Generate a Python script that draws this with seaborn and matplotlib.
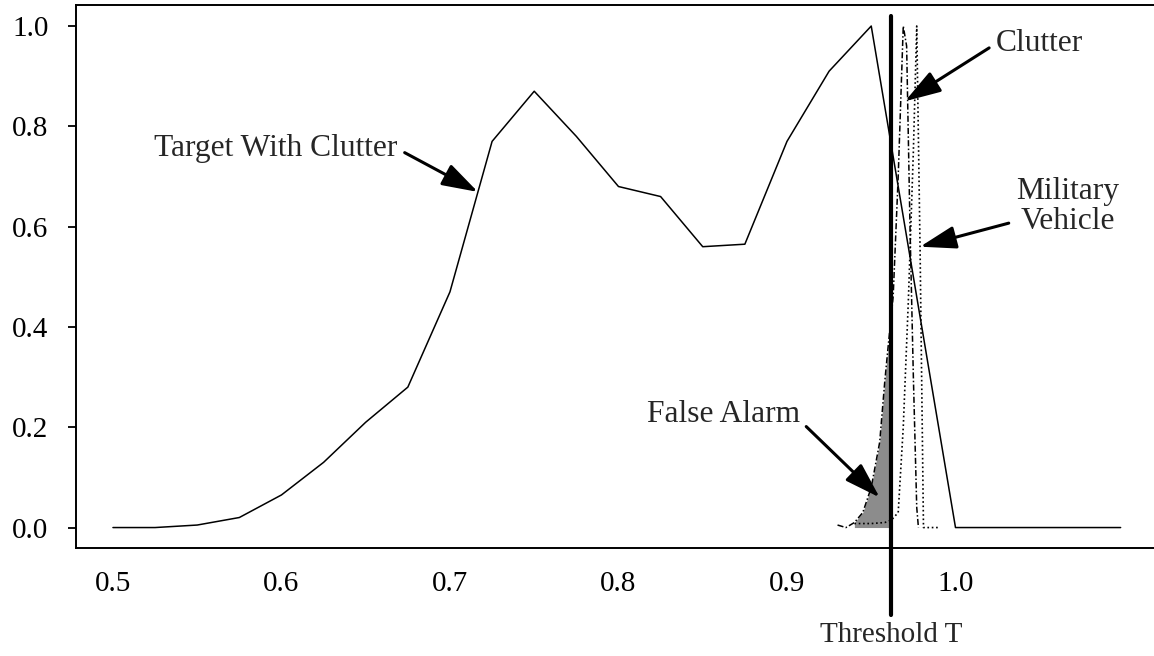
import numpy as np
import pandas as pd
import matplotlib
matplotlib.use("Agg")
import matplotlib.pyplot as plt
import seaborn as sns

# ---- data ----
tw_x = [0.50, 0.525, 0.55, 0.575, 0.60, 0.625, 0.65, 0.675, 0.70, 0.725, 0.75,
        0.775, 0.80, 0.825, 0.85, 0.875, 0.90, 0.925, 0.95, 1.00, 1.098]
tw_y = [0.0, 0.0, 0.005, 0.02, 0.065, 0.13, 0.21, 0.28, 0.47, 0.77, 0.87,
        0.78, 0.68, 0.66, 0.56, 0.565, 0.77, 0.91, 1.0, 0.0, 0.0]

cl_x = [0.930, 0.935, 0.940, 0.945, 0.950, 0.955, 0.958, 0.960, 0.963, 0.966,
        0.969, 0.971, 0.973, 0.975, 0.977, 0.978]
cl_y = [0.005, 0.0, 0.01, 0.03, 0.08, 0.17, 0.29, 0.36, 0.46, 0.70,
        1.0, 0.96, 0.60, 0.30, 0.04, 0.0]

mv_x = [0.940, 0.950, 0.958, 0.962, 0.966, 0.969, 0.972, 0.975, 0.977, 0.979, 0.981, 0.990]
mv_y = [0.008, 0.008, 0.01, 0.015, 0.03, 0.20, 0.45, 0.75, 1.0, 0.55, 0.0, 0.0]

threshold = 0.962
false_alarm_start = 0.940

x_ticks = [0.5, 0.6, 0.7, 0.8, 0.9, 1.0]
x_labels = ["0.5", "0.6", "0.7", "0.8", "0.9", "1.0"]
y_ticks = [0.0, 0.2, 0.4, 0.6, 0.8, 1.0]
y_labels = ["0.0", "0.2", "0.4", "0.6", "0.8", "1.0"]

# ---- style ----
sns.set_style("ticks")
plt.rcParams["font.family"] = ["Liberation Serif", "DejaVu Serif"]

fig = plt.figure(figsize=(11.54, 6.56), dpi=100)
ax = fig.add_axes([0.0656, 0.165, 0.9344, 0.8278])

df_tw = pd.DataFrame({"x": tw_x, "y": tw_y})
df_cl = pd.DataFrame({"x": cl_x, "y": cl_y})
df_mv = pd.DataFrame({"x": mv_x, "y": mv_y})

# False alarm shading: clutter below threshold
fx = np.array([v for v in cl_x if false_alarm_start <= v <= threshold] + [threshold])
fy = np.interp(fx, cl_x, cl_y)
ax.fill_between(fx, 0, fy, color="#8c8c8c", lw=0, zorder=1)

sns.lineplot(data=df_tw, x="x", y="y", ax=ax, color="black", lw=1.1,
             estimator=None, sort=False, zorder=3)
sns.lineplot(data=df_cl, x="x", y="y", ax=ax, color="black", lw=1.1,
             linestyle=(0, (4, 1.5, 1, 1.5)), estimator=None, sort=False, zorder=3)
sns.lineplot(data=df_mv, x="x", y="y", ax=ax, color="black", lw=1.2,
             linestyle=(0, (1, 1.6)), estimator=None, sort=False, zorder=3)

# Threshold line (extends below axes)
ax.plot([threshold, threshold], [-0.175, 1.02], color="black", lw=3.0,
        clip_on=False, zorder=4)
ax.text(threshold, -0.215, "Threshold T", ha="center", va="center",
        fontsize=21, clip_on=False)

arrow = dict(arrowstyle="-|>,head_length=1.1,head_width=0.35", color="black",
             lw=2.2, mutation_scale=20, shrinkA=3, shrinkB=0)

fs_ann = 22.7
tip_x = 0.7166
ax.annotate("Target With Clutter", xy=(tip_x, np.interp(tip_x, tw_x, tw_y)),
            xytext=(0.669, 0.755), ha="right", va="center", fontsize=fs_ann,
            arrowprops=dict(arrow, relpos=(1.0, 0.5)))
ax.annotate("Clutter", xy=(0.970, 0.85), xytext=(1.0240, 0.965),
            ha="left", va="center", fontsize=fs_ann,
            arrowprops=dict(arrow, relpos=(0.0, 0.5)))
ax.annotate("Military\nVehicle", xy=(0.979, 0.56), xytext=(1.0665, 0.64),
            ha="center", va="center", multialignment="center", fontsize=fs_ann,
            linespacing=1.02,
            arrowprops=dict(arrow, relpos=(0.0, 0.25)))
ax.annotate("False Alarm", xy=(0.955, 0.06), xytext=(0.9077, 0.225),
            ha="right", va="center", fontsize=fs_ann,
            arrowprops=dict(arrow, relpos=(1.0, 0.3)))

ax.set_xlim(0.4779, 1.1178)
ax.set_ylim(-0.0403, 1.0425)
ax.set_xticks(x_ticks)
ax.set_xticklabels(x_labels)
ax.set_yticks(y_ticks)
ax.set_yticklabels(y_labels)
ax.set_xlabel("")
ax.set_ylabel("")

ax.spines["right"].set_visible(False)
for s in ["left", "top", "bottom"]:
    ax.spines[s].set_linewidth(1.4)
    ax.spines[s].set_color("black")
ax.tick_params(axis="y", direction="out", length=5.5, width=1.3, pad=14,
               labelsize=21, colors="black")
ax.tick_params(axis="x", length=0, pad=17, labelsize=21, colors="black")

fig.savefig("out.png", dpi=100, facecolor="white")
